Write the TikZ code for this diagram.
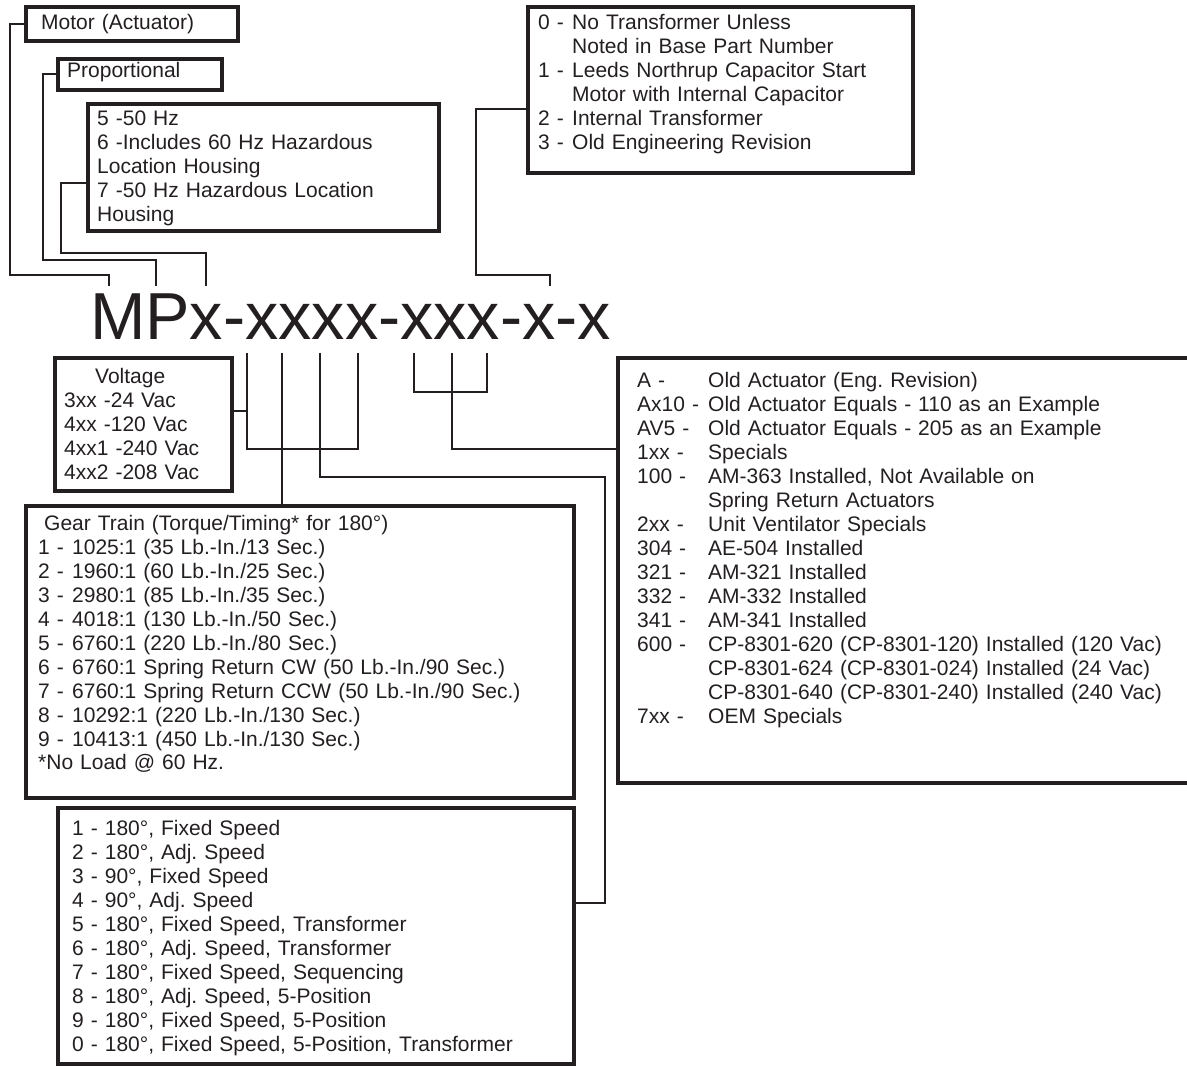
\documentclass[tikz,border=0pt]{standalone}
\usepackage{fontspec}
\setmainfont{Liberation Sans}
\definecolor{ink}{HTML}{231F20}
\newcommand{\itm}[2][34pt]{\makebox[#1][l]{#2}}
\frenchspacing
\begin{document}
\begin{tikzpicture}[x=1pt,y=-1pt,
  box/.style={draw=ink,line width=3.2pt,inner sep=0pt,outer sep=0pt,anchor=north west},
  lbl/.style={anchor=base west,inner sep=0pt,text=ink,align=left,text width=#1,font=\fontsize{21}{24}\selectfont},
  lbl/.default=520pt,
  wire/.style={draw=ink,line width=2pt}]
\useasboundingbox (0,0) rectangle (1187,1067);
% boxes above the part number
\node[box,minimum width=212,minimum height=34] (motor) at (26,7) {};
\node[lbl] (motorT) at (41,30) {Motor (Actuator)};
\node[box,minimum width=164,minimum height=31] (prop) at (58,59) {};
\node[lbl] (propT) at (67,78) {Proportional};
\node[box,minimum width=351,minimum height=127] (hz) at (88,104) {};
\node[lbl] (hzT) at (97,126) {5 -50 Hz\\6 -Includes 60 Hz Hazardous\\Location Housing\\7 -50 Hz Hazardous Location\\Housing};
\node[box,minimum width=385,minimum height=166] (xfmr) at (528,7) {};
\node[lbl] (xfmrT) at (538,30) {\itm{0 -}No Transformer Unless\\\itm{}Noted in Base Part Number\\\itm{1 -}Leeds Northrup Capacitor Start\\\itm{}Motor with Internal Capacitor\\\itm{2 -}Internal Transformer\\\itm{3 -}Old Engineering Revision};
% part number
\node[anchor=base west,inner sep=0pt,text=ink,font=\fontsize{66.5}{70}\selectfont] (part) at (90,340) {MPx-xxxx-xxx-x-x};
% boxes below the part number
\node[box,minimum width=177,minimum height=133] (volt) at (55,358) {};
\node[lbl] (voltT) at (64,384) {\hspace*{31pt}Voltage\\3xx -24 Vac\\4xx -120 Vac\\4xx1 -240 Vac\\4xx2 -208 Vac};
\node[box,minimum width=548,minimum height=292] (gear) at (26,506) {};
\node[lbl] (gearT) at (38,530) {\hspace*{6pt}Gear Train (Torque/Timing* for 180°)\\\itm{1 -}1025:1 (35 Lb.-In./13 Sec.)\\\itm{2 -}1960:1 (60 Lb.-In./25 Sec.)\\\itm{3 -}2980:1 (85 Lb.-In./35 Sec.)\\\itm{4 -}4018:1 (130 Lb.-In./50 Sec.)\\\itm{5 -}6760:1 (220 Lb.-In./80 Sec.)\\\itm{6 -}6760:1 Spring Return CW (50 Lb.-In./90 Sec.)\\\itm{7 -}6760:1 Spring Return CCW (50 Lb.-In./90 Sec.)\\\itm{8 -}10292:1 (220 Lb.-In./130 Sec.)\\\itm{9 -}10413:1 (450 Lb.-In./130 Sec.)\\{}*No Load @ 60 Hz.};
\node[box,minimum width=516,minimum height=256] (fn) at (58,808) {};
\node[lbl] (fnT) at (72,835) {1 - 180°, Fixed Speed\\2 - 180°, Adj. Speed\\3 - 90°, Fixed Speed\\4 - 90°, Adj. Speed\\5 - 180°, Fixed Speed, Transformer\\6 - 180°, Adj. Speed, Transformer\\7 - 180°, Fixed Speed, Sequencing\\8 - 180°, Adj. Speed, 5-Position\\9 - 180°, Fixed Speed, 5-Position\\0 - 180°, Fixed Speed, 5-Position, Transformer};
\node[box,minimum width=582,minimum height=425] (opt) at (618,358) {};
\node[lbl=560pt] (optT) at (637,388) {\itm[71pt]{A -}Old Actuator (Eng. Revision)\\\itm[71pt]{Ax10 -}Old Actuator Equals - 110 as an Example\\\itm[71pt]{AV5 -}Old Actuator Equals - 205 as an Example\\\itm[71pt]{1xx -}Specials\\\itm[71pt]{100 -}AM-363 Installed, Not Available on\\\itm[71pt]{}Spring Return Actuators\\\itm[71pt]{2xx -}Unit Ventilator Specials\\\itm[71pt]{304 -}AE-504 Installed\\\itm[71pt]{321 -}AM-321 Installed\\\itm[71pt]{332 -}AM-332 Installed\\\itm[71pt]{341 -}AM-341 Installed\\\itm[71pt]{600 -}CP-8301-620 (CP-8301-120) Installed (120 Vac)\\\itm[71pt]{}CP-8301-624 (CP-8301-024) Installed (24 Vac)\\\itm[71pt]{}CP-8301-640 (CP-8301-240) Installed (240 Vac)\\\itm[71pt]{7xx -}OEM Specials};
% ends of the leader lines
\coordinate (pM) at (109,286);
\coordinate (pP) at (156,286);
\coordinate (pF) at (206,286);
\coordinate (pT) at (550,286);
\coordinate (pV1) at (247,353);
\coordinate (pG) at (282,353);
\coordinate (pS) at (320,353);
\coordinate (pV2) at (358,353);
\coordinate (pO1) at (414,353);
\coordinate (pO2) at (452,353);
\coordinate (pO3) at (487,353);
\coordinate (hzTap) at (88,183);
\coordinate (xfTap) at (528,109);
\coordinate (vtTap) at (232,411);
\coordinate (optTap) at (618,449);
\coordinate (fnTap) at (574,903);
\coordinate (sBend) at (605,477);
% leader lines
\draw[wire] (motor.west) -| (10,275) -| (pM);
\draw[wire] (prop.west) -| (43,260) -| (pP);
\draw[wire] (hzTap) -| (61,253) -| (pF);
\draw[wire] (xfTap) -| (476,275) -| (pT);
\draw[wire] (pV1) -- ++(0,96) -| (pV2);
\draw[wire] (vtTap) -- (vtTap -| pV1);
\draw[wire] (pG) -- (pG |- gear.north);
\draw[wire] (pS) |- (sBend) |- (fnTap);
\draw[wire] (pO1) -- ++(0,39) -| (pO3);
\draw[wire] (pO2) |- (optTap);
\end{tikzpicture}
\end{document}
